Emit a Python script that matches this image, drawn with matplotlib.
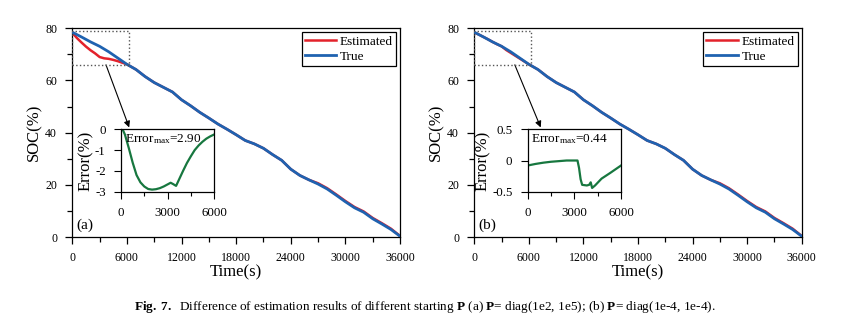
import matplotlib
matplotlib.use('Agg')
import matplotlib.pyplot as plt
from matplotlib.patches import Rectangle
from matplotlib.ticker import MultipleLocator, FixedLocator, FixedFormatter

plt.rcParams['font.family'] = ['Liberation Serif', 'DejaVu Serif']
plt.rcParams['mathtext.fontset'] = 'custom'
plt.rcParams['mathtext.rm'] = 'Liberation Serif'
plt.rcParams['mathtext.bf'] = 'Liberation Serif:bold'
plt.rcParams['mathtext.it'] = 'Liberation Serif:italic'
plt.rcParams['axes.unicode_minus'] = False

# ---------------- data ----------------
time_true = [0, 1000, 2000, 3000, 4000, 5000, 6000, 7000, 8000, 9000, 10000,
             11000, 12000, 13000, 14000, 15000, 16000, 17000, 18000, 19000,
             20000, 21000, 22000, 23000, 24000, 25000, 26000, 27000, 28000,
             29000, 30000, 31000, 32000, 33000, 34000, 35000, 36000]
soc_true = [78.5, 76.7, 74.8, 73.1, 71.0, 68.6, 66.2, 64.2, 61.5, 59.2, 57.4,
            55.6, 52.6, 50.3, 47.8, 45.6, 43.3, 41.3, 39.2, 37.0,
            35.7, 34.0, 31.6, 29.4, 26.0, 23.6, 21.9, 20.3, 18.4,
            16.0, 13.5, 11.2, 9.5, 7.0, 5.0, 2.9, 0.3]

time_est = [0, 500, 1000, 1500, 2000, 2500, 3000, 3500, 4000, 4500, 5000,
            5500, 6000, 7000, 8000, 9000, 10000, 11000, 12000, 13000, 14000,
            15000, 16000, 17000, 18000, 19000, 20000, 21000, 22000, 23000,
            24000, 25000, 26000, 27000, 28000, 29000, 30000, 31000, 32000,
            33000, 34000, 35000, 36000]
soc_est_a = [78.3, 76.3, 74.6, 73.0, 71.6, 70.4, 69.0, 68.5, 68.3, 67.9, 67.4,
             66.8, 66.2, 64.2, 61.5, 59.2, 57.4, 55.6, 52.6, 50.3, 47.8,
             45.6, 43.3, 41.3, 39.2, 37.0, 35.7, 34.0, 31.6, 29.4,
             26.0, 23.6, 21.9, 20.6, 18.7, 16.3, 13.8, 11.5, 9.8,
             7.3, 5.3, 3.2, 0.4]
soc_est_b = [78.4, 77.6, 76.7, 75.8, 74.8, 73.9, 73.1, 71.7, 70.6, 69.5, 68.4,
             67.3, 66.2, 64.2, 61.5, 59.2, 57.4, 55.6, 52.6, 50.3, 47.8,
             45.6, 43.3, 41.3, 39.2, 37.0, 35.7, 34.0, 31.6, 29.4,
             26.0, 23.6, 21.9, 20.6, 18.7, 16.3, 13.8, 11.5, 9.8,
             7.3, 5.3, 3.2, 0.4]

time_err_a = [0, 100, 250, 500, 750, 1000, 1250, 1500, 1750, 2000, 2250, 2500,
              2750, 3000, 3200, 3350, 3550, 3750, 4000, 4250, 4500, 4750, 5000,
              5250, 5500, 5750, 6000]
err_a = [0.0, 0.0, -0.25, -0.9, -1.6, -2.2, -2.55, -2.75, -2.87, -2.9, -2.88,
         -2.83, -2.75, -2.65, -2.57, -2.63, -2.72, -2.4, -2.0, -1.62, -1.3,
         -1.0, -0.78, -0.6, -0.45, -0.34, -0.25]

time_err_b = [0, 500, 1000, 1500, 2000, 2500, 3000, 3200, 3300, 3400, 3500,
              3800, 3950, 4050, 4140, 4330, 4750, 5300, 6000]
err_b = [-0.08, -0.055, -0.035, -0.02, -0.01, 0.0, 0.0, 0.0, -0.12, -0.3,
         -0.39, -0.40, -0.39, -0.35, -0.44, -0.40, -0.29, -0.20, -0.08]

err_max_a = '2.90'
err_max_b = '0.44'

main_xticks = [0, 6000, 12000, 18000, 24000, 30000, 36000]
main_yticks = [0, 20, 40, 60, 80]
inset_xticks = [0, 3000, 6000]
inset_yticks_a = [-3, -2, -1, 0]
inset_ylabels_a = ['-3', '-2', '-1', '0']
inset_yticks_b = [-0.5, 0, 0.5]
inset_ylabels_b = ['-0.5', '0', '0.5']

caption = (r'$\mathbf{Fig.\ 7.}$  Difference of estimation results of different '
           r'starting $\mathbf{P}$ (a) $\mathbf{P}$= diag(1e2, 1e5); '
           r'(b) $\mathbf{P}$= diag(1e-4, 1e-4).')

RED = '#e3222b'
BLUE = '#1f62b0'
GREEN = '#17773f'

fig = plt.figure(figsize=(8.67, 3.32), dpi=100)


def style_main(ax):
    ax.set_xlim(0, 36000)
    ax.set_ylim(0, 80)
    ax.xaxis.set_major_locator(FixedLocator(main_xticks))
    ax.xaxis.set_minor_locator(MultipleLocator(3000))
    ax.yaxis.set_major_locator(FixedLocator(main_yticks))
    ax.yaxis.set_minor_locator(MultipleLocator(10))
    ax.tick_params(which='major', direction='out', length=5, width=0.9,
                   labelsize=8.6, pad=6)
    ax.tick_params(which='minor', direction='out', length=3.5, width=0.9)
    for s in ax.spines.values():
        s.set_linewidth(0.9)
    ax.set_xlabel('Time(s)', fontsize=12, labelpad=0)
    ax.set_ylabel('SOC(%)', fontsize=12, labelpad=2)


def style_inset(ax, yticks, ylabels, ylim):
    ax.set_xlim(0, 6000)
    ax.set_ylim(*ylim)
    ax.xaxis.set_major_locator(FixedLocator(inset_xticks))
    ax.xaxis.set_minor_locator(MultipleLocator(1500))
    ax.yaxis.set_major_locator(FixedLocator(yticks))
    ax.yaxis.set_major_formatter(FixedFormatter(ylabels))
    ax.tick_params(which='major', direction='out', length=5, width=0.8,
                   labelsize=9.3, pad=6)
    ax.tick_params(which='minor', direction='out', length=3, width=0.8)
    for s in ax.spines.values():
        s.set_linewidth(0.9)
    ax.set_ylabel('Error(%)', fontsize=12, labelpad=1)


panels = [
    dict(rect=[0.0834, 0.2861, 0.378, 0.6286], inset=[0.1396, 0.4226, 0.1073, 0.1879],
         est=soc_est_a, terr=time_err_a, err=err_a, emax=err_max_a,
         yt=inset_yticks_a, yl=inset_ylabels_a, ylim=(-3, 0), tag='(a)',
         arrow_from=(3700, 66), arrow_to=(6250, 42.0)),
    dict(rect=[0.5471, 0.2861, 0.3776, 0.6286], inset=[0.6087, 0.4226, 0.1076, 0.1879],
         est=soc_est_b, terr=time_err_b, err=err_b, emax=err_max_b,
         yt=inset_yticks_b, yl=inset_ylabels_b, ylim=(-0.5, 0.5), tag='(b)',
         arrow_from=(4450, 66), arrow_to=(7300, 42.0)),
]

for p in panels:
    ax = fig.add_axes(p['rect'])
    ax.plot(time_est, p['est'], color=RED, lw=1.8, label='Estimated', zorder=2)
    ax.plot(time_true, soc_true, color=BLUE, lw=2.0, label='True', zorder=3)
    style_main(ax)
    leg = ax.legend(loc='upper right', fontsize=9.5, frameon=True, fancybox=False,
                    edgecolor='black', framealpha=1, borderpad=0.25,
                    labelspacing=0.2, handlelength=2.4, handletextpad=0.25,
                    borderaxespad=0.3)
    leg.get_frame().set_linewidth(0.9)
    ax.add_patch(Rectangle((0, 66), 6200, 13, fill=False, ls=':', lw=1.0,
                           ec='#555555', zorder=4))
    ax.annotate('', xy=p['arrow_to'], xytext=p['arrow_from'],
                arrowprops=dict(arrowstyle='-|>', color='black', lw=0.8,
                                mutation_scale=9, shrinkA=0, shrinkB=0))
    ax.text(0.012, 0.025, p['tag'], transform=ax.transAxes, fontsize=11,
            ha='left', va='bottom')

    ins = fig.add_axes(p['inset'])
    ins.plot(p['terr'], p['err'], color=GREEN, lw=1.6)
    style_inset(ins, p['yt'], p['yl'], p['ylim'])
    ins.text(0.04, 0.96, r'Error$_{\rm max}$=' + p['emax'], transform=ins.transAxes,
             fontsize=9.5, ha='left', va='top')

fig.text(0.49, 0.076, caption, fontsize=9.5, ha='center', va='center')

fig.savefig('out.png', dpi=100)
